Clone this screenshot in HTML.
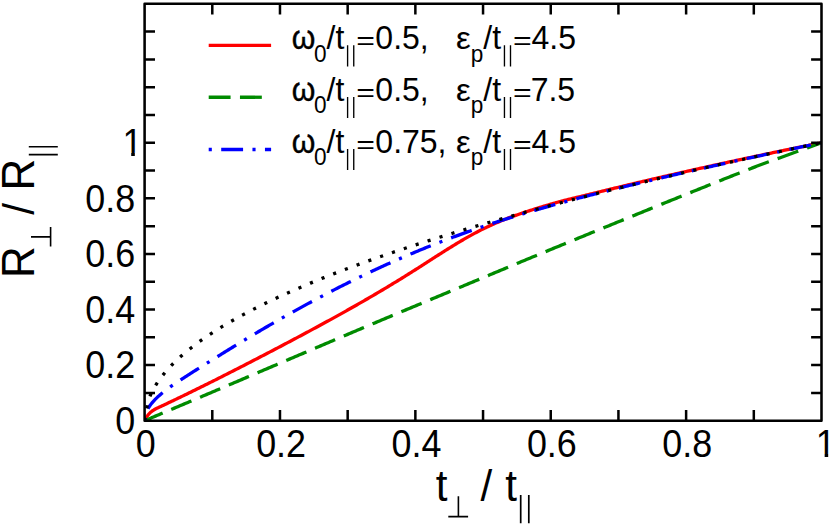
<!DOCTYPE html>
<html><head><meta charset="utf-8"><title>chart</title>
<style>html,body{margin:0;padding:0;background:#fff}body{width:830px;height:526px;overflow:hidden}svg{display:block}</style>
</head><body>
<svg width="830" height="526" viewBox="0 0 830 526">
<rect x="0" y="0" width="830" height="526" fill="#fff"/>
<clipPath id="pc"><rect x="144.60" y="3.80" width="676.90" height="416.90"/></clipPath>
<g fill="none" stroke-width="3.30" stroke-linejoin="round">
<g clip-path="url(#pc)">
<path d="M144.60 420.70 L145.28 419.41 L145.95 418.20 L146.63 417.07 L147.31 416.03 L147.98 415.09 L148.66 414.25 L148.78 414.12 L150.02 412.85 L151.23 411.80 L151.37 411.69 L152.05 411.17 L152.72 410.67 L154.08 409.76 L155.43 408.98 L156.78 408.35 L158.14 407.72 L159.49 407.08 L160.85 406.45 L162.20 405.81 L163.55 405.17 L164.91 404.53 L166.26 403.89 L167.61 403.25 L168.97 402.61 L170.32 401.96 L171.68 401.32 L173.03 400.67 L174.38 400.02 L175.74 399.37 L177.09 398.72 L178.44 398.07 L179.80 397.42 L181.15 396.77 L182.51 396.11 L183.86 395.46 L185.21 394.80 L186.57 394.15 L187.92 393.49 L189.28 392.83 L190.63 392.17 L191.98 391.50 L193.34 390.84 L194.69 390.18 L196.04 389.51 L197.40 388.85 L198.75 388.18 L200.11 387.51 L201.46 386.84 L202.81 386.18 L204.17 385.50 L205.52 384.83 L206.87 384.16 L208.23 383.49 L209.58 382.81 L210.94 382.14 L212.29 381.46 L213.64 380.78 L215.00 380.11 L216.35 379.43 L217.71 378.75 L219.06 378.07 L220.41 377.39 L221.77 376.70 L223.12 376.02 L224.47 375.34 L225.83 374.65 L227.18 373.97 L228.54 373.28 L229.89 372.59 L231.24 371.90 L232.60 371.22 L233.95 370.53 L235.30 369.84 L236.66 369.14 L238.01 368.45 L239.37 367.76 L240.72 367.07 L242.07 366.37 L243.43 365.68 L244.78 364.98 L246.13 364.28 L247.49 363.59 L248.84 362.89 L250.20 362.19 L251.55 361.49 L252.90 360.79 L254.26 360.09 L255.61 359.39 L256.97 358.69 L258.32 357.99 L259.67 357.28 L261.03 356.58 L262.38 355.88 L263.73 355.17 L265.09 354.47 L266.44 353.76 L267.80 353.05 L269.15 352.35 L270.50 351.64 L271.86 350.93 L273.21 350.22 L274.56 349.51 L275.92 348.80 L277.27 348.09 L278.63 347.38 L279.98 346.67 L281.33 345.96 L282.69 345.25 L284.04 344.53 L285.40 343.82 L286.75 343.11 L288.10 342.39 L289.46 341.68 L290.81 340.96 L292.16 340.24 L293.52 339.53 L294.87 338.81 L296.23 338.09 L297.58 337.37 L298.93 336.65 L300.29 335.93 L301.64 335.21 L302.99 334.48 L304.35 333.76 L305.70 333.04 L307.06 332.31 L308.41 331.59 L309.76 330.86 L311.12 330.13 L312.47 329.40 L313.82 328.67 L315.18 327.94 L316.53 327.21 L317.89 326.48 L319.24 325.74 L320.59 325.01 L321.95 324.27 L323.30 323.54 L324.66 322.80 L326.01 322.06 L327.36 321.32 L328.72 320.58 L330.07 319.83 L331.42 319.09 L332.78 318.34 L334.13 317.60 L335.49 316.85 L336.84 316.10 L338.19 315.35 L339.55 314.60 L340.90 313.85 L342.25 313.09 L343.61 312.33 L344.96 311.58 L346.32 310.82 L347.67 310.06 L349.02 309.30 L350.38 308.53 L351.73 307.77 L353.09 307.00 L354.44 306.23 L355.79 305.46 L357.15 304.69 L358.50 303.92 L359.85 303.15 L361.21 302.37 L362.56 301.59 L363.92 300.81 L365.27 300.03 L366.62 299.25 L367.98 298.47 L369.33 297.68 L370.68 296.89 L372.04 296.10 L373.39 295.31 L374.75 294.52 L376.10 293.72 L377.45 292.92 L378.81 292.12 L380.16 291.32 L381.51 290.52 L382.87 289.72 L384.22 288.91 L385.58 288.10 L386.93 287.29 L388.28 286.48 L389.64 285.66 L390.99 284.84 L392.35 284.02 L393.70 283.20 L395.05 282.38 L396.41 281.55 L397.76 280.73 L399.11 279.89 L400.47 279.06 L401.82 278.23 L403.18 277.39 L404.53 276.55 L405.88 275.71 L407.24 274.87 L408.59 274.02 L409.94 273.17 L411.30 272.32 L412.65 271.47 L414.01 270.61 L415.36 269.75 L416.71 268.89 L418.07 268.03 L419.42 267.17 L420.78 266.30 L422.13 265.43 L423.48 264.56 L424.84 263.69 L426.19 262.82 L427.54 261.95 L428.90 261.08 L430.25 260.21 L431.61 259.34 L432.96 258.47 L434.31 257.60 L435.67 256.73 L437.02 255.86 L438.37 255.00 L439.73 254.13 L441.08 253.27 L442.44 252.41 L443.79 251.56 L445.14 250.70 L446.50 249.85 L447.85 249.00 L449.21 248.16 L450.56 247.32 L451.91 246.48 L453.27 245.65 L454.62 244.83 L455.97 244.00 L457.33 243.19 L458.68 242.37 L460.04 241.57 L461.39 240.77 L462.74 239.97 L464.10 239.19 L465.45 238.41 L466.80 237.63 L468.16 236.86 L469.51 236.10 L470.87 235.35 L472.22 234.61 L473.57 233.87 L474.93 233.14 L476.28 232.42 L477.63 231.71 L478.99 231.01 L480.34 230.32 L481.70 229.64 L483.05 228.97 L484.40 228.30 L485.76 227.65 L487.11 227.01 L488.47 226.38 L489.82 225.75 L491.17 225.14 L492.53 224.53 L493.88 223.94 L495.23 223.35 L496.59 222.77 L497.94 222.19 L499.30 221.63 L500.65 221.07 L502.00 220.53 L503.36 219.98 L504.71 219.45 L506.06 218.92 L507.42 218.40 L508.77 217.89 L510.13 217.38 L511.48 216.88 L512.83 216.39 L514.19 215.90 L515.54 215.41 L516.89 214.93 L518.25 214.46 L519.60 213.99 L520.96 213.53 L522.31 213.07 L523.66 212.61 L525.02 212.16 L526.37 211.72 L527.73 211.27 L529.08 210.83 L530.43 210.40 L531.79 209.97 L533.14 209.54 L534.49 209.11 L535.85 208.68 L537.20 208.26 L538.56 207.84 L539.91 207.43 L541.26 207.01 L542.62 206.60 L543.97 206.19 L545.32 205.78 L546.68 205.37 L548.03 204.97 L549.39 204.57 L550.74 204.17 L552.09 203.78 L553.45 203.39 L554.80 203.01 L556.16 202.63 L557.51 202.26 L558.86 201.90 L560.22 201.53 L561.57 201.18 L562.92 200.82 L564.28 200.47 L565.63 200.13 L566.99 199.79 L568.34 199.45 L569.69 199.11 L571.05 198.78 L572.40 198.45 L573.75 198.12 L575.11 197.79 L576.46 197.46 L577.82 197.14 L579.17 196.81 L580.52 196.49 L581.88 196.16 L583.23 195.84 L584.59 195.51 L585.94 195.18 L587.29 194.85 L588.65 194.52 L590.00 194.18 L591.35 193.85 L592.71 193.51 L594.06 193.17 L595.42 192.84 L596.77 192.51 L598.12 192.17 L599.48 191.84 L600.83 191.51 L602.18 191.18 L603.54 190.84 L604.89 190.51 L606.25 190.18 L607.60 189.85 L608.95 189.52 L610.31 189.19 L611.66 188.86 L613.01 188.54 L614.37 188.21 L615.72 187.88 L617.08 187.56 L618.43 187.23 L619.78 186.90 L621.14 186.58 L622.49 186.25 L623.85 185.93 L625.20 185.61 L626.55 185.28 L627.91 184.96 L629.26 184.64 L630.61 184.31 L631.97 183.99 L633.32 183.67 L634.68 183.35 L636.03 183.03 L637.38 182.71 L638.74 182.39 L640.09 182.07 L641.44 181.76 L642.80 181.44 L644.15 181.12 L645.51 180.80 L646.86 180.49 L648.21 180.17 L649.57 179.85 L650.92 179.54 L652.27 179.22 L653.63 178.91 L654.98 178.60 L656.34 178.28 L657.69 177.97 L659.04 177.66 L660.40 177.34 L661.75 177.03 L663.11 176.72 L664.46 176.41 L665.81 176.10 L667.17 175.79 L668.52 175.48 L669.87 175.17 L671.23 174.86 L672.58 174.55 L673.94 174.24 L675.29 173.93 L676.64 173.63 L678.00 173.32 L679.35 173.01 L680.70 172.71 L682.06 172.40 L683.41 172.10 L684.77 171.79 L686.12 171.49 L687.47 171.18 L688.83 170.88 L690.18 170.57 L691.54 170.27 L692.89 169.97 L694.24 169.67 L695.60 169.36 L696.95 169.06 L698.30 168.76 L699.66 168.46 L701.01 168.16 L702.37 167.86 L703.72 167.56 L705.07 167.26 L706.43 166.96 L707.78 166.66 L709.13 166.37 L710.49 166.07 L711.84 165.77 L713.20 165.47 L714.55 165.18 L715.90 164.88 L717.26 164.58 L718.61 164.29 L719.97 163.99 L721.32 163.70 L722.67 163.40 L724.03 163.11 L725.38 162.81 L726.73 162.52 L728.09 162.23 L729.44 161.93 L730.80 161.64 L732.15 161.35 L733.50 161.06 L734.86 160.77 L736.21 160.47 L737.56 160.18 L738.92 159.89 L740.27 159.60 L741.63 159.31 L742.98 159.02 L744.33 158.73 L745.69 158.45 L747.04 158.16 L748.39 157.87 L749.75 157.58 L751.10 157.29 L752.46 157.01 L753.81 156.72 L755.16 156.43 L756.52 156.15 L757.87 155.86 L759.23 155.58 L760.58 155.29 L761.93 155.01 L763.29 154.72 L764.64 154.44 L765.99 154.15 L767.35 153.87 L768.70 153.59 L770.06 153.30 L771.41 153.02 L772.76 152.74 L774.12 152.46 L775.47 152.17 L776.82 151.89 L778.18 151.61 L779.53 151.33 L780.89 151.05 L782.24 150.77 L783.59 150.49 L784.95 150.21 L786.30 149.93 L787.65 149.65 L789.01 149.37 L790.36 149.09 L791.72 148.82 L793.07 148.54 L794.42 148.26 L795.78 147.98 L797.13 147.71 L798.49 147.43 L799.84 147.15 L801.19 146.88 L802.55 146.60 L803.90 146.33 L805.25 146.05 L806.61 145.78 L807.96 145.50 L809.32 145.23 L810.67 144.95 L812.02 144.68 L813.38 144.41 L814.73 144.13 L816.08 143.86 L817.44 143.59 L818.79 143.31 L820.15 143.04 L821.50 142.77" stroke="#ff0000"/>
<path d="M144.60 420.70 L145.28 420.42 L145.95 420.13 L146.63 419.85 L147.31 419.56 L147.98 419.28 L148.66 418.99 L148.78 418.94 L150.02 418.42 L151.23 417.91 L151.37 417.85 L152.05 417.56 L152.72 417.28 L154.08 416.71 L155.43 416.14 L156.78 415.57 L158.14 415.00 L159.49 414.43 L160.85 413.85 L162.20 413.28 L163.55 412.71 L164.91 412.14 L166.26 411.57 L167.61 411.00 L168.97 410.42 L170.32 409.85 L171.68 409.28 L173.03 408.71 L174.38 408.14 L175.74 407.56 L177.09 406.99 L178.44 406.42 L179.80 405.85 L181.15 405.27 L182.51 404.70 L183.86 404.13 L185.21 403.55 L186.57 402.98 L187.92 402.41 L189.28 401.83 L190.63 401.26 L191.98 400.69 L193.34 400.11 L194.69 399.54 L196.04 398.97 L197.40 398.39 L198.75 397.82 L200.11 397.24 L201.46 396.67 L202.81 396.10 L204.17 395.52 L205.52 394.95 L206.87 394.37 L208.23 393.80 L209.58 393.22 L210.94 392.65 L212.29 392.07 L213.64 391.50 L215.00 390.92 L216.35 390.35 L217.71 389.77 L219.06 389.19 L220.41 388.62 L221.77 388.04 L223.12 387.46 L224.47 386.89 L225.83 386.31 L227.18 385.73 L228.54 385.15 L229.89 384.58 L231.24 384.00 L232.60 383.42 L233.95 382.84 L235.30 382.26 L236.66 381.68 L238.01 381.11 L239.37 380.53 L240.72 379.95 L242.07 379.37 L243.43 378.79 L244.78 378.21 L246.13 377.63 L247.49 377.05 L248.84 376.47 L250.20 375.89 L251.55 375.31 L252.90 374.73 L254.26 374.16 L255.61 373.58 L256.97 373.00 L258.32 372.42 L259.67 371.84 L261.03 371.26 L262.38 370.68 L263.73 370.10 L265.09 369.52 L266.44 368.94 L267.80 368.37 L269.15 367.79 L270.50 367.21 L271.86 366.63 L273.21 366.05 L274.56 365.48 L275.92 364.90 L277.27 364.32 L278.63 363.75 L279.98 363.17 L281.33 362.59 L282.69 362.02 L284.04 361.44 L285.40 360.86 L286.75 360.28 L288.10 359.71 L289.46 359.13 L290.81 358.55 L292.16 357.98 L293.52 357.40 L294.87 356.82 L296.23 356.25 L297.58 355.67 L298.93 355.09 L300.29 354.51 L301.64 353.94 L302.99 353.36 L304.35 352.78 L305.70 352.21 L307.06 351.63 L308.41 351.05 L309.76 350.47 L311.12 349.90 L312.47 349.32 L313.82 348.74 L315.18 348.17 L316.53 347.59 L317.89 347.01 L319.24 346.44 L320.59 345.86 L321.95 345.28 L323.30 344.71 L324.66 344.13 L326.01 343.56 L327.36 342.98 L328.72 342.40 L330.07 341.83 L331.42 341.25 L332.78 340.68 L334.13 340.10 L335.49 339.53 L336.84 338.95 L338.19 338.38 L339.55 337.80 L340.90 337.23 L342.25 336.66 L343.61 336.08 L344.96 335.51 L346.32 334.93 L347.67 334.36 L349.02 333.79 L350.38 333.21 L351.73 332.64 L353.09 332.07 L354.44 331.50 L355.79 330.92 L357.15 330.35 L358.50 329.78 L359.85 329.21 L361.21 328.64 L362.56 328.07 L363.92 327.50 L365.27 326.93 L366.62 326.36 L367.98 325.79 L369.33 325.22 L370.68 324.65 L372.04 324.08 L373.39 323.51 L374.75 322.94 L376.10 322.37 L377.45 321.80 L378.81 321.23 L380.16 320.67 L381.51 320.10 L382.87 319.53 L384.22 318.96 L385.58 318.39 L386.93 317.83 L388.28 317.26 L389.64 316.69 L390.99 316.12 L392.35 315.56 L393.70 314.99 L395.05 314.42 L396.41 313.85 L397.76 313.29 L399.11 312.72 L400.47 312.15 L401.82 311.59 L403.18 311.02 L404.53 310.45 L405.88 309.89 L407.24 309.32 L408.59 308.75 L409.94 308.19 L411.30 307.62 L412.65 307.06 L414.01 306.49 L415.36 305.92 L416.71 305.36 L418.07 304.79 L419.42 304.23 L420.78 303.66 L422.13 303.10 L423.48 302.53 L424.84 301.96 L426.19 301.40 L427.54 300.83 L428.90 300.27 L430.25 299.70 L431.61 299.14 L432.96 298.57 L434.31 298.01 L435.67 297.44 L437.02 296.88 L438.37 296.31 L439.73 295.75 L441.08 295.18 L442.44 294.62 L443.79 294.05 L445.14 293.49 L446.50 292.93 L447.85 292.36 L449.21 291.80 L450.56 291.23 L451.91 290.67 L453.27 290.10 L454.62 289.54 L455.97 288.97 L457.33 288.41 L458.68 287.84 L460.04 287.28 L461.39 286.71 L462.74 286.15 L464.10 285.58 L465.45 285.02 L466.80 284.45 L468.16 283.88 L469.51 283.32 L470.87 282.75 L472.22 282.19 L473.57 281.62 L474.93 281.06 L476.28 280.49 L477.63 279.93 L478.99 279.36 L480.34 278.79 L481.70 278.23 L483.05 277.66 L484.40 277.10 L485.76 276.53 L487.11 275.97 L488.47 275.40 L489.82 274.84 L491.17 274.27 L492.53 273.71 L493.88 273.14 L495.23 272.58 L496.59 272.01 L497.94 271.45 L499.30 270.88 L500.65 270.32 L502.00 269.75 L503.36 269.19 L504.71 268.62 L506.06 268.06 L507.42 267.49 L508.77 266.93 L510.13 266.36 L511.48 265.80 L512.83 265.23 L514.19 264.67 L515.54 264.11 L516.89 263.54 L518.25 262.98 L519.60 262.42 L520.96 261.85 L522.31 261.29 L523.66 260.73 L525.02 260.16 L526.37 259.60 L527.73 259.04 L529.08 258.48 L530.43 257.92 L531.79 257.35 L533.14 256.79 L534.49 256.23 L535.85 255.67 L537.20 255.11 L538.56 254.55 L539.91 253.99 L541.26 253.43 L542.62 252.87 L543.97 252.31 L545.32 251.75 L546.68 251.19 L548.03 250.63 L549.39 250.07 L550.74 249.51 L552.09 248.95 L553.45 248.39 L554.80 247.83 L556.16 247.28 L557.51 246.72 L558.86 246.16 L560.22 245.61 L561.57 245.05 L562.92 244.49 L564.28 243.94 L565.63 243.38 L566.99 242.83 L568.34 242.27 L569.69 241.71 L571.05 241.16 L572.40 240.60 L573.75 240.05 L575.11 239.49 L576.46 238.94 L577.82 238.38 L579.17 237.83 L580.52 237.28 L581.88 236.72 L583.23 236.17 L584.59 235.61 L585.94 235.06 L587.29 234.50 L588.65 233.95 L590.00 233.40 L591.35 232.84 L592.71 232.29 L594.06 231.74 L595.42 231.18 L596.77 230.63 L598.12 230.08 L599.48 229.52 L600.83 228.97 L602.18 228.42 L603.54 227.86 L604.89 227.31 L606.25 226.76 L607.60 226.21 L608.95 225.65 L610.31 225.10 L611.66 224.55 L613.01 224.00 L614.37 223.44 L615.72 222.89 L617.08 222.34 L618.43 221.79 L619.78 221.24 L621.14 220.68 L622.49 220.13 L623.85 219.58 L625.20 219.03 L626.55 218.48 L627.91 217.92 L629.26 217.37 L630.61 216.82 L631.97 216.27 L633.32 215.72 L634.68 215.17 L636.03 214.62 L637.38 214.06 L638.74 213.51 L640.09 212.96 L641.44 212.41 L642.80 211.86 L644.15 211.31 L645.51 210.76 L646.86 210.20 L648.21 209.65 L649.57 209.10 L650.92 208.55 L652.27 208.00 L653.63 207.45 L654.98 206.90 L656.34 206.35 L657.69 205.80 L659.04 205.25 L660.40 204.70 L661.75 204.15 L663.11 203.60 L664.46 203.05 L665.81 202.50 L667.17 201.95 L668.52 201.40 L669.87 200.86 L671.23 200.31 L672.58 199.76 L673.94 199.21 L675.29 198.66 L676.64 198.12 L678.00 197.57 L679.35 197.02 L680.70 196.48 L682.06 195.93 L683.41 195.38 L684.77 194.84 L686.12 194.29 L687.47 193.75 L688.83 193.20 L690.18 192.66 L691.54 192.11 L692.89 191.57 L694.24 191.02 L695.60 190.48 L696.95 189.93 L698.30 189.39 L699.66 188.85 L701.01 188.30 L702.37 187.76 L703.72 187.22 L705.07 186.67 L706.43 186.13 L707.78 185.59 L709.13 185.04 L710.49 184.50 L711.84 183.96 L713.20 183.42 L714.55 182.87 L715.90 182.33 L717.26 181.79 L718.61 181.25 L719.97 180.71 L721.32 180.17 L722.67 179.63 L724.03 179.09 L725.38 178.55 L726.73 178.01 L728.09 177.47 L729.44 176.93 L730.80 176.39 L732.15 175.85 L733.50 175.32 L734.86 174.78 L736.21 174.25 L737.56 173.71 L738.92 173.18 L740.27 172.65 L741.63 172.11 L742.98 171.58 L744.33 171.05 L745.69 170.52 L747.04 170.00 L748.39 169.47 L749.75 168.94 L751.10 168.42 L752.46 167.89 L753.81 167.37 L755.16 166.85 L756.52 166.33 L757.87 165.82 L759.23 165.31 L760.58 164.80 L761.93 164.30 L763.29 163.80 L764.64 163.30 L765.99 162.80 L767.35 162.31 L768.70 161.82 L770.06 161.33 L771.41 160.84 L772.76 160.35 L774.12 159.87 L775.47 159.38 L776.82 158.90 L778.18 158.41 L779.53 157.93 L780.89 157.44 L782.24 156.95 L783.59 156.47 L784.95 155.98 L786.30 155.49 L787.65 155.00 L789.01 154.51 L790.36 154.02 L791.72 153.52 L793.07 153.03 L794.42 152.54 L795.78 152.05 L797.13 151.56 L798.49 151.07 L799.84 150.58 L801.19 150.09 L802.55 149.60 L803.90 149.11 L805.25 148.62 L806.61 148.13 L807.96 147.64 L809.32 147.16 L810.67 146.67 L812.02 146.18 L813.38 145.69 L814.73 145.20 L816.08 144.72 L817.44 144.23 L818.79 143.74 L820.15 143.26 L821.50 142.77" stroke="#008b00" stroke-dasharray="21.875 9.375" stroke-dashoffset="2.3"/>
<path d="M144.60 420.70 L145.28 418.29 L145.95 415.89 L146.63 413.48 L147.31 411.08 L147.98 408.67 L148.66 407.52 L148.78 407.34 L150.02 405.49 L151.23 403.87 L151.37 403.69 L152.05 402.86 L152.72 402.07 L154.08 400.57 L155.43 399.16 L156.78 397.84 L158.14 396.58 L159.49 395.37 L160.85 394.21 L162.20 393.09 L163.55 392.00 L164.91 390.94 L166.26 389.91 L167.61 388.89 L168.97 387.90 L170.32 386.93 L171.68 385.96 L173.03 385.02 L174.38 384.08 L175.74 383.15 L177.09 382.24 L178.44 381.33 L179.80 380.43 L181.15 379.54 L182.51 378.65 L183.86 377.77 L185.21 376.90 L186.57 376.02 L187.92 375.16 L189.28 374.29 L190.63 373.43 L191.98 372.57 L193.34 371.71 L194.69 370.86 L196.04 370.01 L197.40 369.16 L198.75 368.31 L200.11 367.46 L201.46 366.61 L202.81 365.76 L204.17 364.91 L205.52 364.07 L206.87 363.22 L208.23 362.38 L209.58 361.53 L210.94 360.69 L212.29 359.85 L213.64 359.00 L215.00 358.16 L216.35 357.32 L217.71 356.48 L219.06 355.63 L220.41 354.79 L221.77 353.95 L223.12 353.11 L224.47 352.27 L225.83 351.44 L227.18 350.60 L228.54 349.76 L229.89 348.93 L231.24 348.09 L232.60 347.26 L233.95 346.43 L235.30 345.60 L236.66 344.77 L238.01 343.94 L239.37 343.12 L240.72 342.30 L242.07 341.48 L243.43 340.66 L244.78 339.84 L246.13 339.03 L247.49 338.21 L248.84 337.40 L250.20 336.59 L251.55 335.78 L252.90 334.97 L254.26 334.17 L255.61 333.37 L256.97 332.57 L258.32 331.77 L259.67 330.97 L261.03 330.17 L262.38 329.38 L263.73 328.58 L265.09 327.79 L266.44 327.00 L267.80 326.21 L269.15 325.43 L270.50 324.64 L271.86 323.86 L273.21 323.08 L274.56 322.30 L275.92 321.52 L277.27 320.75 L278.63 319.98 L279.98 319.20 L281.33 318.43 L282.69 317.66 L284.04 316.90 L285.40 316.13 L286.75 315.37 L288.10 314.61 L289.46 313.85 L290.81 313.09 L292.16 312.34 L293.52 311.58 L294.87 310.83 L296.23 310.08 L297.58 309.33 L298.93 308.58 L300.29 307.84 L301.64 307.10 L302.99 306.36 L304.35 305.62 L305.70 304.88 L307.06 304.14 L308.41 303.41 L309.76 302.68 L311.12 301.95 L312.47 301.22 L313.82 300.50 L315.18 299.77 L316.53 299.05 L317.89 298.33 L319.24 297.61 L320.59 296.90 L321.95 296.18 L323.30 295.47 L324.66 294.76 L326.01 294.05 L327.36 293.35 L328.72 292.64 L330.07 291.94 L331.42 291.24 L332.78 290.54 L334.13 289.85 L335.49 289.15 L336.84 288.46 L338.19 287.77 L339.55 287.08 L340.90 286.40 L342.25 285.71 L343.61 285.03 L344.96 284.35 L346.32 283.68 L347.67 283.00 L349.02 282.33 L350.38 281.66 L351.73 280.99 L353.09 280.32 L354.44 279.66 L355.79 278.99 L357.15 278.33 L358.50 277.68 L359.85 277.02 L361.21 276.37 L362.56 275.72 L363.92 275.07 L365.27 274.42 L366.62 273.78 L367.98 273.13 L369.33 272.49 L370.68 271.85 L372.04 271.22 L373.39 270.58 L374.75 269.95 L376.10 269.32 L377.45 268.70 L378.81 268.07 L380.16 267.45 L381.51 266.83 L382.87 266.21 L384.22 265.59 L385.58 264.98 L386.93 264.37 L388.28 263.76 L389.64 263.15 L390.99 262.54 L392.35 261.94 L393.70 261.34 L395.05 260.74 L396.41 260.15 L397.76 259.55 L399.11 258.96 L400.47 258.37 L401.82 257.78 L403.18 257.20 L404.53 256.62 L405.88 256.03 L407.24 255.46 L408.59 254.88 L409.94 254.31 L411.30 253.73 L412.65 253.16 L414.01 252.60 L415.36 252.03 L416.71 251.47 L418.07 250.91 L419.42 250.35 L420.78 249.79 L422.13 249.24 L423.48 248.68 L424.84 248.13 L426.19 247.59 L427.54 247.04 L428.90 246.50 L430.25 245.96 L431.61 245.42 L432.96 244.88 L434.31 244.35 L435.67 243.81 L437.02 243.28 L438.37 242.75 L439.73 242.23 L441.08 241.70 L442.44 241.18 L443.79 240.66 L445.14 240.14 L446.50 239.63 L447.85 239.12 L449.21 238.60 L450.56 238.10 L451.91 237.59 L453.27 237.08 L454.62 236.58 L455.97 236.08 L457.33 235.58 L458.68 235.09 L460.04 234.59 L461.39 234.10 L462.74 233.61 L464.10 233.12 L465.45 232.64 L466.80 232.15 L468.16 231.67 L469.51 231.19 L470.87 230.71 L472.22 230.24 L473.57 229.76 L474.93 229.29 L476.28 228.82 L477.63 228.35 L478.99 227.89 L480.34 227.42 L481.70 226.96 L483.05 226.50 L484.40 226.05 L485.76 225.59 L487.11 225.14 L488.47 224.68 L489.82 224.24 L491.17 223.79 L492.53 223.34 L493.88 222.90 L495.23 222.46 L496.59 222.02 L497.94 221.58 L499.30 221.14 L500.65 220.71 L502.00 220.27 L503.36 219.84 L504.71 219.42 L506.06 218.99 L507.42 218.56 L508.77 218.14 L510.13 217.72 L511.48 217.30 L512.83 216.88 L514.19 216.47 L515.54 216.05 L516.89 215.64 L518.25 215.23 L519.60 214.82 L520.96 214.42 L522.31 214.01 L523.66 213.61 L525.02 213.21 L526.37 212.81 L527.73 212.41 L529.08 212.01 L530.43 211.62 L531.79 211.23 L533.14 210.84 L534.49 210.45 L535.85 210.06 L537.20 209.67 L538.56 209.27 L539.91 208.88 L541.26 208.48 L542.62 208.09 L543.97 207.70 L545.32 207.31 L546.68 206.93 L548.03 206.54 L549.39 206.16 L550.74 205.78 L552.09 205.40 L553.45 205.03 L554.80 204.65 L556.16 204.28 L557.51 203.91 L558.86 203.54 L560.22 203.17 L561.57 202.80 L562.92 202.44 L564.28 202.07 L565.63 201.71 L566.99 201.35 L568.34 200.98 L569.69 200.62 L571.05 200.26 L572.40 199.90 L573.75 199.55 L575.11 199.19 L576.46 198.83 L577.82 198.36 L579.17 198.01 L580.52 197.66 L581.88 197.32 L583.23 196.97 L584.59 196.63 L585.94 196.28 L587.29 195.94 L588.65 195.59 L590.00 195.25 L591.35 194.91 L592.71 194.57 L594.06 194.23 L595.42 193.88 L596.77 193.54 L598.12 193.20 L599.48 192.87 L600.83 192.53 L602.18 192.19 L603.54 191.85 L604.89 191.51 L606.25 191.18 L607.60 190.84 L608.95 190.50 L610.31 190.17 L611.66 189.83 L613.01 189.50 L614.37 189.17 L615.72 188.83 L617.08 188.50 L618.43 188.17 L619.78 187.84 L621.14 187.50 L622.49 187.17 L623.85 186.84 L625.20 186.51 L626.55 186.18 L627.91 185.85 L629.26 185.52 L630.61 185.20 L631.97 184.87 L633.32 184.54 L634.68 184.21 L636.03 183.89 L637.38 183.56 L638.74 183.24 L640.09 182.91 L641.44 182.59 L642.80 182.26 L644.15 181.94 L645.51 181.62 L646.86 181.29 L648.21 180.97 L649.57 180.65 L650.92 180.33 L652.27 180.01 L653.63 179.68 L654.98 179.36 L656.34 179.04 L657.69 178.73 L659.04 178.41 L660.40 178.09 L661.75 177.77 L663.11 177.45 L664.46 177.13 L665.81 176.82 L667.17 176.50 L668.52 176.18 L669.87 175.87 L671.23 175.55 L672.58 175.24 L673.94 174.92 L675.29 174.61 L676.64 174.30 L678.00 173.98 L679.35 173.67 L680.70 173.36 L682.06 173.05 L683.41 172.73 L684.77 172.42 L686.12 172.11 L687.47 171.80 L688.83 171.49 L690.18 171.18 L691.54 170.87 L692.89 170.56 L694.24 170.25 L695.60 169.95 L696.95 169.64 L698.30 169.33 L699.66 169.02 L701.01 168.72 L702.37 168.41 L703.72 168.10 L705.07 167.80 L706.43 167.49 L707.78 167.19 L709.13 166.88 L710.49 166.58 L711.84 166.28 L713.20 165.97 L714.55 165.67 L715.90 165.37 L717.26 165.06 L718.61 164.76 L719.97 164.46 L721.32 164.16 L722.67 163.86 L724.03 163.56 L725.38 163.26 L726.73 162.96 L728.09 162.66 L729.44 162.36 L730.80 162.06 L732.15 161.76 L733.50 161.46 L734.86 161.17 L736.21 160.87 L737.56 160.57 L738.92 160.27 L740.27 159.98 L741.63 159.68 L742.98 159.39 L744.33 159.09 L745.69 158.80 L747.04 158.50 L748.39 158.21 L749.75 157.91 L751.10 157.62 L752.46 157.33 L753.81 157.03 L755.16 156.74 L756.52 156.45 L757.87 156.16 L759.23 155.86 L760.58 155.57 L761.93 155.28 L763.29 154.99 L764.64 154.70 L765.99 154.41 L767.35 154.12 L768.70 153.83 L770.06 153.54 L771.41 153.25 L772.76 152.96 L774.12 152.67 L775.47 152.39 L776.82 152.10 L778.18 151.81 L779.53 151.52 L780.89 151.24 L782.24 150.95 L783.59 150.66 L784.95 150.38 L786.30 150.09 L787.65 149.81 L789.01 149.52 L790.36 149.24 L791.72 148.95 L793.07 148.67 L794.42 148.39 L795.78 148.10 L797.13 147.82 L798.49 147.54 L799.84 147.25 L801.19 146.97 L802.55 146.69 L803.90 146.41 L805.25 146.13 L806.61 145.84 L807.96 145.56 L809.32 145.28 L810.67 145.00 L812.02 144.72 L813.38 144.44 L814.73 144.16 L816.08 143.88 L817.44 143.61 L818.79 143.33 L820.15 143.05 L821.50 142.77" stroke="#0000ff" stroke-dasharray="3.125 9.375 21.875 9.375"/>
<path d="M144.60 420.70 L147.98 401.05 L151.37 392.91 L154.75 386.66 L158.14 381.39 L161.52 376.76 L164.91 372.56 L168.29 368.70 L171.68 365.11 L175.06 361.74 L178.44 358.55 L181.83 355.52 L185.21 352.62 L188.60 349.84 L191.98 347.17 L195.37 344.59 L198.75 342.09 L202.14 339.67 L205.52 337.32 L208.91 335.04 L212.29 332.81 L215.67 330.64 L219.06 328.52 L222.44 326.45 L225.83 324.42 L229.21 322.44 L232.60 320.49 L235.98 318.58 L239.37 316.71 L242.75 314.87 L246.13 313.06 L249.52 311.28 L252.90 309.53 L256.29 307.80 L259.67 306.11 L263.06 304.43 L266.44 302.78 L269.83 301.16 L273.21 299.55 L276.60 297.97 L279.98 296.41 L283.36 294.86 L286.75 293.34 L290.13 291.83 L293.52 290.34 L296.90 288.87 L300.29 287.41 L303.67 285.97 L307.06 284.54 L310.44 283.13 L313.82 281.74 L317.21 280.35 L320.59 278.98 L323.98 277.63 L327.36 276.28 L330.75 274.95 L334.13 273.63 L337.52 272.33 L340.90 271.03 L344.29 269.75 L347.67 268.47 L351.05 267.21 L354.44 265.96 L357.82 264.71 L361.21 263.48 L364.59 262.26 L367.98 261.04 L371.36 259.84 L374.75 258.64 L378.13 257.45 L381.51 256.27 L384.90 255.10 L388.28 253.94 L391.67 252.79 L395.05 251.64 L398.44 250.50 L401.82 249.37 L405.21 248.25 L408.59 247.13 L411.98 246.02 L415.36 244.92 L418.74 243.83 L422.13 242.74 L425.51 241.66 L428.90 240.58 L432.28 239.51 L435.67 238.45 L439.05 237.39 L442.44 236.34 L445.82 235.30 L449.21 234.26 L452.59 233.23 L455.97 232.20 L459.36 231.18 L462.74 230.16 L466.13 229.15 L469.51 228.14 L472.90 227.14 L476.28 226.15 L479.67 225.16 L483.05 224.17 L486.43 223.19 L489.82 222.22 L493.20 221.25 L496.59 220.28 L499.97 219.32 L503.36 218.36 L506.74 217.41 L510.13 216.46 L513.51 215.52 L516.89 214.58 L520.28 213.65 L523.66 212.72 L527.05 211.79 L530.43 210.87 L533.82 209.95 L537.20 209.03 L540.59 208.12 L543.97 207.22 L547.36 206.32 L550.74 205.42 L554.12 204.52 L557.51 203.63 L560.89 202.74 L564.28 201.86 L567.66 200.98 L571.05 200.10 L574.43 199.23 L577.82 198.36 L581.20 197.49 L584.59 196.63 L587.97 195.77 L591.35 194.91 L594.74 194.05 L598.12 193.20 L601.51 192.36 L604.89 191.51 L608.28 190.67 L611.66 189.83 L615.05 189.00 L618.43 188.17 L621.81 187.34 L625.20 186.51 L628.58 185.69 L631.97 184.87 L635.35 184.05 L638.74 183.24 L642.12 182.42 L645.51 181.62 L648.89 180.81 L652.27 180.01 L655.66 179.20 L659.04 178.41 L662.43 177.61 L665.81 176.82 L669.20 176.03 L672.58 175.24 L675.97 174.45 L679.35 173.67 L682.74 172.89 L686.12 172.11 L689.50 171.34 L692.89 170.56 L696.27 169.79 L699.66 169.02 L703.04 168.26 L706.43 167.49 L709.81 166.73 L713.20 165.97 L716.58 165.22 L719.97 164.46 L723.35 163.71 L726.73 162.96 L730.12 162.21 L733.50 161.46 L736.89 160.72 L740.27 159.98 L743.66 159.24 L747.04 158.50 L750.43 157.77 L753.81 157.03 L757.19 156.30 L760.58 155.57 L763.96 154.84 L767.35 154.12 L770.73 153.40 L774.12 152.67 L777.50 151.95 L780.89 151.24 L784.27 150.52 L787.65 149.81 L791.04 149.10 L794.42 148.39 L797.81 147.68 L801.19 146.97 L804.58 146.27 L807.96 145.56 L811.35 144.86 L814.73 144.16 L818.12 143.47 L821.50 142.77" stroke="#000" stroke-dasharray="3.125 9.375"/>
</g>
<path d="M208.7 45.3 H271.1" stroke="#ff0000"/>
<path d="M208.7 97.25 H271.1" stroke="#008b00" stroke-dasharray="21.875 9.375"/>
<path d="M208.7 149.5 H271.1" stroke="#0000ff" stroke-dasharray="3.125 9.375 21.875 9.375"/>
</g>
<path d="M212.29 420.70 V410.10 M212.29 3.80 V14.40 M279.98 420.70 V410.10 M279.98 3.80 V14.40 M347.67 420.70 V410.10 M347.67 3.80 V14.40 M415.36 420.70 V410.10 M415.36 3.80 V14.40 M483.05 420.70 V410.10 M483.05 3.80 V14.40 M550.74 420.70 V410.10 M550.74 3.80 V14.40 M618.43 420.70 V410.10 M618.43 3.80 V14.40 M686.12 420.70 V410.10 M686.12 3.80 V14.40 M753.81 420.70 V410.10 M753.81 3.80 V14.40 M144.60 392.91 H155.00 M821.50 392.91 H811.10 M144.60 365.11 H155.00 M821.50 365.11 H811.10 M144.60 337.32 H155.00 M821.50 337.32 H811.10 M144.60 309.53 H155.00 M821.50 309.53 H811.10 M144.60 281.74 H155.00 M821.50 281.74 H811.10 M144.60 253.94 H155.00 M821.50 253.94 H811.10 M144.60 226.15 H155.00 M821.50 226.15 H811.10 M144.60 198.36 H155.00 M821.50 198.36 H811.10 M144.60 170.56 H155.00 M821.50 170.56 H811.10 M144.60 142.77 H155.00 M821.50 142.77 H811.10 M144.60 114.98 H155.00 M821.50 114.98 H811.10 M144.60 87.18 H155.00 M821.50 87.18 H811.10 M144.60 59.39 H155.00 M821.50 59.39 H811.10 M144.60 31.60 H155.00 M821.50 31.60 H811.10" stroke="#000" stroke-width="2.50" fill="none"/>
<rect x="144.60" y="3.80" width="676.90" height="416.90" fill="none" stroke="#000" stroke-width="2.55" stroke-linejoin="round"/>
<g font-family="'Liberation Sans', sans-serif" fill="#000">
<clipPath id="c1"><rect x="0" y="-40" width="22" height="36.80"/><rect x="8.83" y="-6" width="3.57" height="8"/></clipPath>
<text transform="translate(135.20 433.90) scale(0.970 1.030)" font-size="37.0" text-anchor="end">0</text>
<text transform="translate(145.70 457.20) scale(0.970 1.030)" font-size="37.0" text-anchor="middle">0</text>
<text transform="translate(135.20 378.31) scale(0.970 1.030)" font-size="37.0" text-anchor="end">0.2</text>
<text transform="translate(281.08 457.20) scale(0.970 1.030)" font-size="37.0" text-anchor="middle">0.2</text>
<text transform="translate(135.20 322.73) scale(0.970 1.030)" font-size="37.0" text-anchor="end">0.4</text>
<text transform="translate(416.46 457.20) scale(0.970 1.030)" font-size="37.0" text-anchor="middle">0.4</text>
<text transform="translate(135.20 267.14) scale(0.970 1.030)" font-size="37.0" text-anchor="end">0.6</text>
<text transform="translate(551.84 457.20) scale(0.970 1.030)" font-size="37.0" text-anchor="middle">0.6</text>
<text transform="translate(135.20 211.56) scale(0.970 1.030)" font-size="37.0" text-anchor="end">0.8</text>
<text transform="translate(687.22 457.20) scale(0.970 1.030)" font-size="37.0" text-anchor="middle">0.8</text>
<g transform="translate(122.40 155.97)" clip-path="url(#c1)"><text transform="scale(0.970 1.030)" font-size="37.0">1</text></g>
<g transform="translate(815.80 457.20)" clip-path="url(#c1)"><text transform="scale(0.970 1.030)" font-size="37.0">1</text></g>
<text transform="translate(291.78 49.00) scale(0.915 1.000)" font-size="33.0" stroke="#000" stroke-width="0.45">ω</text>
<text transform="translate(314.12 61.70) scale(0.970 1.030)" font-size="23.3">0</text>
<text transform="translate(326.50 49.00) scale(0.970 1.030)" font-size="33.0">/t</text>
<path d="M347.60 45.20 V66.40 M353.75 45.20 V66.40" stroke="#000" stroke-width="1.35" fill="none"/>
<text transform="translate(356.24 49.00) scale(0.970 0.775)" font-size="33.0">=</text>
<text transform="translate(375.35 49.00) scale(0.970 1.030)" font-size="33.0">0.5,</text>
<text transform="translate(455.97 49.00) scale(1.000 0.930)" font-size="33.0" stroke="#000" stroke-width="0.15">ε</text>
<text transform="translate(470.74 61.70) scale(0.970 1.030)" font-size="23.3">p</text>
<text transform="translate(483.30 49.00) scale(0.970 1.030)" font-size="33.0">/t</text>
<path d="M504.45 45.20 V66.40 M510.50 45.20 V66.40" stroke="#000" stroke-width="1.35" fill="none"/>
<text transform="translate(513.04 49.00) scale(0.970 0.775)" font-size="33.0">=</text>
<text transform="translate(531.57 49.00) scale(0.970 1.030)" font-size="33.0">4.5</text>
<text transform="translate(291.78 100.70) scale(0.915 1.000)" font-size="33.0" stroke="#000" stroke-width="0.45">ω</text>
<text transform="translate(314.12 113.40) scale(0.970 1.030)" font-size="23.3">0</text>
<text transform="translate(326.50 100.70) scale(0.970 1.030)" font-size="33.0">/t</text>
<path d="M347.60 96.90 V118.10 M353.75 96.90 V118.10" stroke="#000" stroke-width="1.35" fill="none"/>
<text transform="translate(356.24 100.70) scale(0.970 0.775)" font-size="33.0">=</text>
<text transform="translate(375.35 100.70) scale(0.970 1.030)" font-size="33.0">0.5,</text>
<text transform="translate(455.97 100.70) scale(1.000 0.930)" font-size="33.0" stroke="#000" stroke-width="0.15">ε</text>
<text transform="translate(470.74 113.40) scale(0.970 1.030)" font-size="23.3">p</text>
<text transform="translate(483.30 100.70) scale(0.970 1.030)" font-size="33.0">/t</text>
<path d="M504.45 96.90 V118.10 M510.50 96.90 V118.10" stroke="#000" stroke-width="1.35" fill="none"/>
<text transform="translate(513.04 100.70) scale(0.970 0.775)" font-size="33.0">=</text>
<text transform="translate(530.66 100.70) scale(0.970 1.030)" font-size="33.0">7.5</text>
<text transform="translate(291.78 152.70) scale(0.915 1.000)" font-size="33.0" stroke="#000" stroke-width="0.45">ω</text>
<text transform="translate(314.12 165.40) scale(0.970 1.030)" font-size="23.3">0</text>
<text transform="translate(326.50 152.70) scale(0.970 1.030)" font-size="33.0">/t</text>
<path d="M347.60 148.90 V170.10 M353.75 148.90 V170.10" stroke="#000" stroke-width="1.35" fill="none"/>
<text transform="translate(356.24 152.70) scale(0.970 0.775)" font-size="33.0">=</text>
<text transform="translate(375.35 152.70) scale(0.970 1.030)" font-size="33.0">0.75,</text>
<text transform="translate(455.97 152.70) scale(1.000 0.930)" font-size="33.0" stroke="#000" stroke-width="0.15">ε</text>
<text transform="translate(470.74 165.40) scale(0.970 1.030)" font-size="23.3">p</text>
<text transform="translate(483.30 152.70) scale(0.970 1.030)" font-size="33.0">/t</text>
<path d="M504.45 148.90 V170.10 M510.50 148.90 V170.10" stroke="#000" stroke-width="1.35" fill="none"/>
<text transform="translate(513.04 152.70) scale(0.970 0.775)" font-size="33.0">=</text>
<text transform="translate(531.57 152.70) scale(0.970 1.030)" font-size="33.0">4.5</text>
<text transform="translate(435.86 500.50) scale(0.970 1.030)" font-size="43.5">t</text>
<path d="M448.3 516.6 H468.1 M458.4 496.3 V516.6" stroke="#000" stroke-width="1.6" fill="none"/>
<text transform="translate(480.40 500.50) scale(0.970 1.030)" font-size="43.4">/</text>
<text transform="translate(505.36 500.50) scale(0.970 1.030)" font-size="43.5">t</text>
<path d="M520.70 495.10 V523.30 M528.80 495.10 V523.30" stroke="#000" stroke-width="1.70" fill="none"/>
<g transform="translate(34.3 278.2) rotate(-90)">
<text transform="translate(0.08 0.00) scale(0.970 1.030)" font-size="45.5">R</text>
<path d="M31.6 16.3 H51.1 M41.35 -3.3 V16.3" stroke="#000" stroke-width="1.6" fill="none"/>
<text transform="translate(63.50 0.00) scale(0.970 1.030)" font-size="43.4">/</text>
<text transform="translate(87.58 0.00) scale(0.970 1.030)" font-size="45.5">R</text>
<path d="M123.60 -5.50 V23.50 M131.45 -5.50 V23.50" stroke="#000" stroke-width="1.70" fill="none"/>
</g>
</g>
</svg>
</body></html>
